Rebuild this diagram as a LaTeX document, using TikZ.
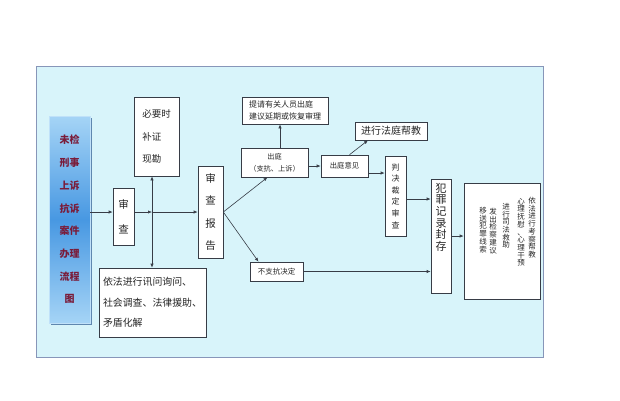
\documentclass[tikz,border=0pt]{standalone}
\usepackage{fontspec}
\setmainfont{Noto Sans CJK SC}
\usetikzlibrary{arrows.meta}
\definecolor{panelbg}{RGB}{216,244,250}
\definecolor{panelrim}{RGB}{135,150,185}
\definecolor{titleA}{RGB}{165,212,246}
\definecolor{titleB}{RGB}{72,152,226}
\definecolor{titleshadow}{RGB}{95,135,175}
\definecolor{titletext}{RGB}{122,28,58}
\definecolor{inkline}{RGB}{55,60,70}
\newcommand{\flowfont}[2]{\fontsize{#1}{#2}\selectfont}

\begin{document}
\begin{tikzpicture}[x=1pt, y=-1pt,
  cell/.style={draw=inkline, fill=white, line width=0.6pt, inner sep=0pt,
               align=center, text=black!85},
  conn/.style={draw=inkline, line width=0.6pt, -{Latex[length=4pt,width=3.2pt]}}]

\useasboundingbox (0,0) rectangle (620,400);

% --- background panel ------------------------------------------------------
\fill[white] (0,0) rectangle (620,400);
\draw[panelrim, fill=panelbg, line width=0.8pt] (36,66) rectangle (543,357);

% --- title bar ---------------------------------------------------------------
\fill[titleshadow] (51,118) rectangle (91.5,324.5);
\node[draw=titleA!70!white, line width=0.5pt, top color=titleA, bottom color=titleA,
      middle color=titleB, minimum width=41, minimum height=207, inner sep=0pt,
      align=center, text=titletext, font=\flowfont{10}{22.7}\bfseries]
  (title) at (69.5,219.5) {未检\\刑事\\上诉\\抗诉\\案件\\办理\\流程\\图};

% --- review stage ------------------------------------------------------------
\node[cell, minimum width=21, minimum height=57, font=\flowfont{10.5}{25}]
  (shencha) at (123.5,216.5) {审\\查};
\node[cell, minimum width=45, minimum height=79, align=left, font=\flowfont{9.5}{22.5}]
  (buzheng) at (156.5,136.5) {必要时\\补证\\现勘};
\node[cell, minimum width=107, minimum height=69, align=left, font=\flowfont{9.9}{20.5}]
  (xunwen) at (152.5,302.5) {依法进行讯问询问、\\社会调查、法律援助、\\矛盾化解};
\node[cell, minimum width=25, minimum height=92, font=\flowfont{10.5}{22.5}]
  (baogao) at (210.5,212) {审\\查\\报\\告};
\coordinate (hub) at (152,212);

\draw[conn] (title.east |- hub) -- (shencha.west |- hub);
\draw[conn] (shencha.east |- hub) -- (hub);
\draw[conn] (hub) -- (baogao.west |- hub);
\draw[conn] (hub) -- (hub |- buzheng.south);
\draw[conn] (hub) -- (hub |- xunwen.north);

% --- court branch ------------------------------------------------------------
\node[cell, minimum width=86, minimum height=27, align=left, font=\flowfont{8}{11.5}]
  (tiqing) at (285,110.5) {提请有关人员出庭\\建议延期或恢复审理};
\node[cell, minimum width=67, minimum height=29, font=\flowfont{7.2}{12}]
  (chuting) at (274.5,162.5) {出庭\\（支抗、上诉）};
\node[cell, minimum width=47, minimum height=22, font=\flowfont{7.3}{9}]
  (yijian) at (344.5,166) {出庭意见};
\node[cell, minimum width=72, minimum height=18, font=\flowfont{10}{12}]
  (bangjiao) at (391,131) {进行法庭帮教};
\node[cell, minimum width=21, minimum height=80, font=\flowfont{8}{11.6}]
  (panjue) at (395.5,196) {判\\决\\裁\\定\\审\\查};
\node[cell, minimum width=53, minimum height=19, font=\flowfont{7.5}{9}]
  (buzhikang) at (276.5,271.5) {不支抗决定};

\coordinate (upTap) at ([xshift=5.5pt]chuting.north);
\coordinate (yjTap) at ([yshift=-7pt]yijian.east);
\coordinate (pjTap) at ([yshift=-3pt]panjue.east);

\draw[conn] (baogao.east |- hub) -- ([xshift=-7pt]chuting.south);
\draw[conn] (baogao.east |- hub) -- ([xshift=-18pt]buzhikang.north);
\draw[conn] (upTap) -- (upTap |- tiqing.south);
\draw[conn] (chuting.east |- yijian.west) -- (yijian.west);
\draw[conn] ([xshift=5pt]yijian.north) -- ([xshift=-23pt]bangjiao.south);
\draw[conn] (yjTap) -- (yjTap -| panjue.west);

% --- record sealing and follow-up ----------------------------------------
\node[cell, minimum width=20, minimum height=114]
  (fengcun) at (441,236)
  {\parbox[c][106pt][t]{14pt}{\centering\flowfont{11}{11.6}犯\\罪\\记\\录\\封\\存}};
\node[cell, minimum width=76, minimum height=116] (result) at (502,241) {};
\foreach \cx/\cy/\ctext [count=\ci] in {
    532/197/{依\\法\\进\\行\\考\\察\\帮\\教},
    521/198/{心\\理\\抚\\慰\\、\\心\\理\\干\\预},
    506/203/{进\\行\\司\\法\\救\\助},
    493/208/{发\\出\\检\\察\\建\\议},
    483/207/{移\\送\\犯\\罪\\线\\索}}
  \node[anchor=north, inner sep=0pt, align=center, text=black!85,
        font=\flowfont{7.5}{7.7}] (res\ci) at (\cx,\cy) {\ctext};

\draw[conn] (pjTap) -- (pjTap -| fengcun.west);
\draw[conn] (buzhikang.east) -- (buzhikang.east -| fengcun.west);
\draw[conn] (fengcun.east) -- (fengcun.east -| result.west);

\end{tikzpicture}
\end{document}
